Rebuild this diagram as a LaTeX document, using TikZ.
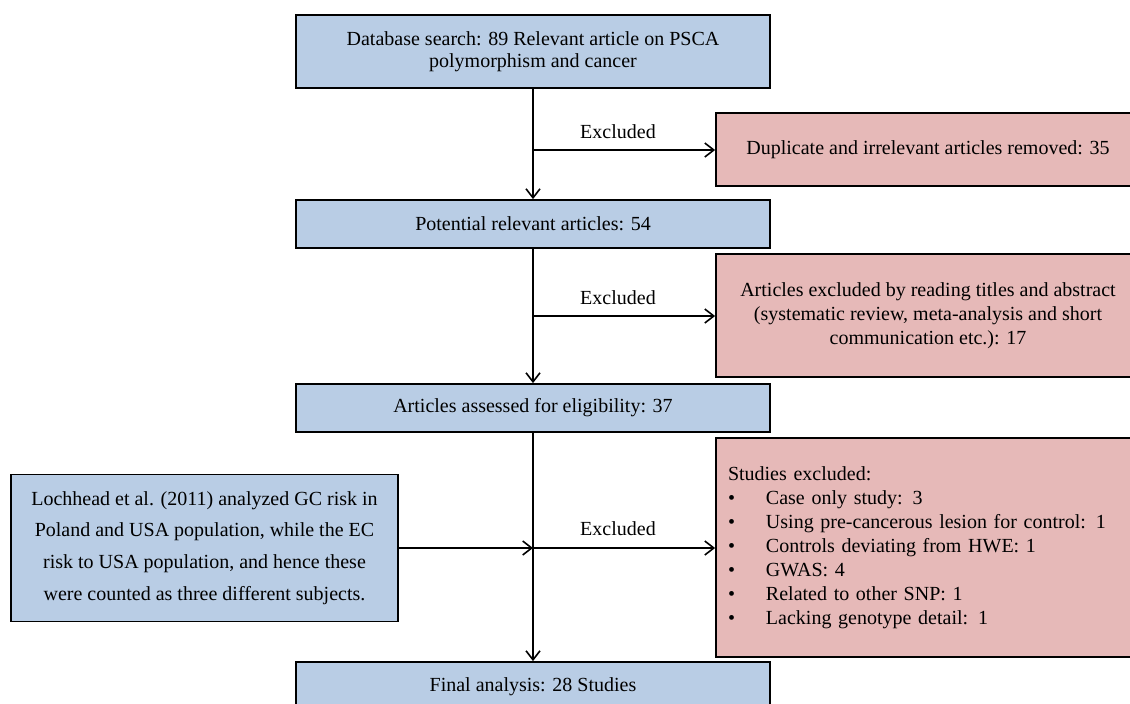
\documentclass[tikz,border=0pt]{standalone}
\usepackage{fontspec}
\setmainfont{Liberation Serif}
\usetikzlibrary{arrows.meta}
\definecolor{stageblue}{HTML}{B9CDE5}
\definecolor{droppink}{HTML}{E6B9B8}
\tikzset{
  stagebox/.style={draw=black, line width=1.8pt, fill=stageblue, minimum width=474pt, inner sep=0pt, align=center, font=\fontsize{20}{22.5}\selectfont},
  dropbox/.style={draw=black, line width=1.8pt, fill=droppink, minimum width=424pt, inner sep=0pt, align=center, font=\fontsize{20}{24}\selectfont},
  flow/.style={line width=1.6pt, -{Straight Barb[length=9pt,width=14pt]}},
  exlabel/.style={font=\fontsize{20}{22}\selectfont},
}
\begin{document}
\begin{tikzpicture}[x=1pt, y=-1pt]
  \useasboundingbox (0,0) rectangle (1130,704);
  % main stages
  \node[stagebox, minimum height=73pt] (search) at (533,51.5) {Database search: 89 Relevant article on PSCA\\polymorphism and cancer};
  \node[stagebox, minimum height=48pt] (potential) at (533,224) {Potential relevant articles: 54};
  \node[stagebox, minimum height=48pt] (eligible) at (533,408) {Articles assessed for eligibility: 37};
  \node[stagebox, minimum height=50pt] (final) at (533,687) {Final analysis: 28 Studies};
  % side note
  \node[stagebox, minimum width=387pt, minimum height=147pt, font=\fontsize{20}{31.7}\selectfont] (lochhead) at (204.5,548) {Lochhead et al. (2011) analyzed GC risk in\\Poland and USA population, while the EC\\risk to USA population, and hence these\\were counted as three different subjects.};
  % excluded boxes
  \node[dropbox, minimum height=73pt] (dup) at (928,149.5) {Duplicate and irrelevant articles removed: 35};
  \node[dropbox, minimum height=123pt] (titles) at (928,315.5) {Articles excluded by reading titles and abstract\\(systematic review, meta-analysis and short\\communication etc.): 17};
  \node[dropbox, minimum height=219pt, inner xsep=12pt, text width=400pt, align=left] (studies) at (928,547.5) {Studies excluded:\\
    \makebox[38pt][l]{\textbullet}Case only study: 3\\
    \makebox[38pt][l]{\textbullet}Using pre-cancerous lesion for control: 1\\
    \makebox[38pt][l]{\textbullet}Controls deviating from HWE: 1\\
    \makebox[38pt][l]{\textbullet}GWAS: 4\\
    \makebox[38pt][l]{\textbullet}Related to other SNP: 1\\
    \makebox[38pt][l]{\textbullet}Lacking genotype detail: 1};
  % junctions on the main line
  \coordinate (cut1) at (533,150);
  \coordinate (cut2) at (533,316);
  \coordinate (cut3) at (533,548);
  % arrows
  \draw[flow] (search) -- (potential);
  \draw[flow] (potential) -- (eligible);
  \draw[flow] (eligible) -- (final);
  \draw[flow] (cut1) -- (cut1 -| dup.west);
  \draw[flow] (cut2) -- (cut2 -| titles.west);
  \draw[flow] (lochhead) -- (cut3);
  \draw[flow] (cut3) -- (cut3 -| studies.west);
  \node[exlabel] (ex1) at (618,132) {Excluded};
  \node[exlabel] (ex2) at (618,298) {Excluded};
  \node[exlabel] (ex3) at (618,529) {Excluded};
\end{tikzpicture}
\end{document}
